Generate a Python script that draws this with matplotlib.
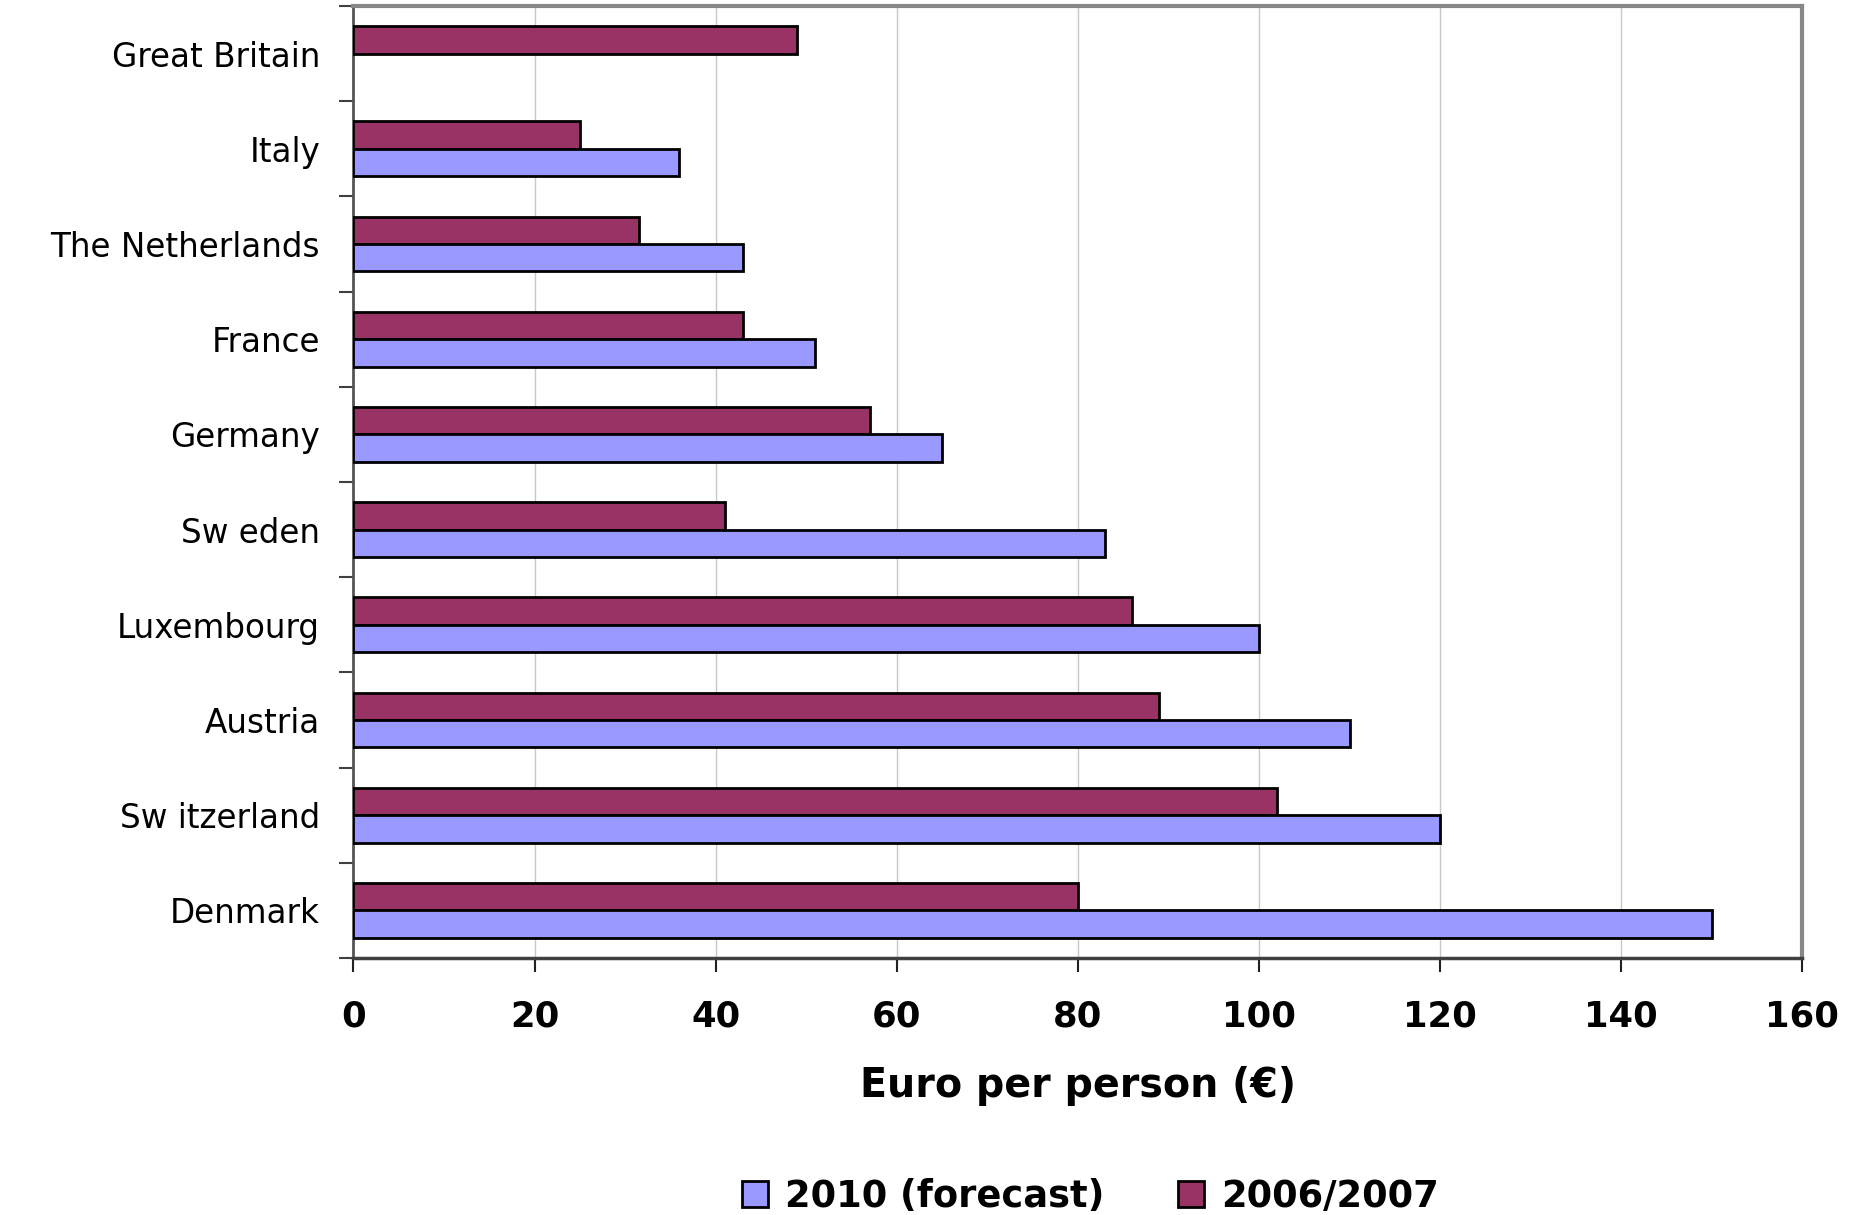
import numpy as np
import matplotlib
matplotlib.use("Agg")
import matplotlib.pyplot as plt
from matplotlib.patches import Patch

categories = ["Great Britain", "Italy", "The Netherlands", "France", "Germany",
              "Sw eden", "Luxembourg", "Austria", "Sw itzerland", "Denmark"]
values_2006 = [49, 25, 31.5, 43, 57, 41, 86, 89, 102, 80]
values_2010 = [np.nan, 36, 43, 51, 65, 83, 100, 110, 120, 150]
series_names = ["2010 (forecast)", "2006/2007"]
xticks = [0, 20, 40, 60, 80, 100, 120, 140, 160]

plt.rcParams['font.family'] = ['DejaVu Sans']

c2010 = "#9999FF"
c2006 = "#993366"

fig = plt.figure(figsize=(18.6, 12.15), dpi=100)
ax = fig.add_axes([0.19, 0.2115, 0.779, 0.7835])

y = np.arange(len(categories))
h = 0.2875
ax.barh(y - h / 2, values_2006, height=h, color=c2006, edgecolor="black", linewidth=2, zorder=3)
ax.barh(y + h / 2, values_2010, height=h, color=c2010, edgecolor="black", linewidth=2, zorder=3)

ax.set_xlim(0, 160)
ax.set_ylim(len(categories) - 0.5, -0.5)
ax.set_xticks(xticks)
ax.set_xticklabels([str(t) for t in xticks], fontsize=25.5, fontweight="bold")
ax.set_yticks(y)
ax.set_yticklabels(categories, fontsize=23.5)
ax.set_yticks(np.arange(-0.5, len(categories), 1.0), minor=True)
ax.tick_params(axis="y", which="major", length=0, pad=24)
ax.tick_params(axis="y", which="minor", length=10, width=1.5, color="#404040", direction="out")
ax.tick_params(axis="x", which="major", length=10, width=1.5, color="#202020", direction="out", pad=20)

ax.xaxis.grid(True, color="#c8c8c8", linewidth=1, zorder=0)
ax.set_axisbelow(True)

for s in ["top", "right"]:
    ax.spines[s].set_color("#888888")
    ax.spines[s].set_linewidth(3)
ax.spines["left"].set_color("#555555")
ax.spines["left"].set_linewidth(2)
ax.spines["bottom"].set_color("#404040")
ax.spines["bottom"].set_linewidth(2.5)

ax.set_xlabel("Euro per person (€)", fontsize=28.5, fontweight="bold")
ax.xaxis.set_label_coords(0.5, -0.1345)
ax.xaxis.label.set_va("center")

handles = [Patch(facecolor=c2010, edgecolor="black", linewidth=2),
           Patch(facecolor=c2006, edgecolor="black", linewidth=2)]
fig.legend(handles, series_names, loc="center", bbox_to_anchor=(0.586, 0.0156), ncol=2,
           frameon=False, prop={"size": 26.5, "weight": "bold"},
           handlelength=0.72, handleheight=0.72, handletextpad=0.45, columnspacing=2.0)

fig.savefig("out.png", dpi=100)
